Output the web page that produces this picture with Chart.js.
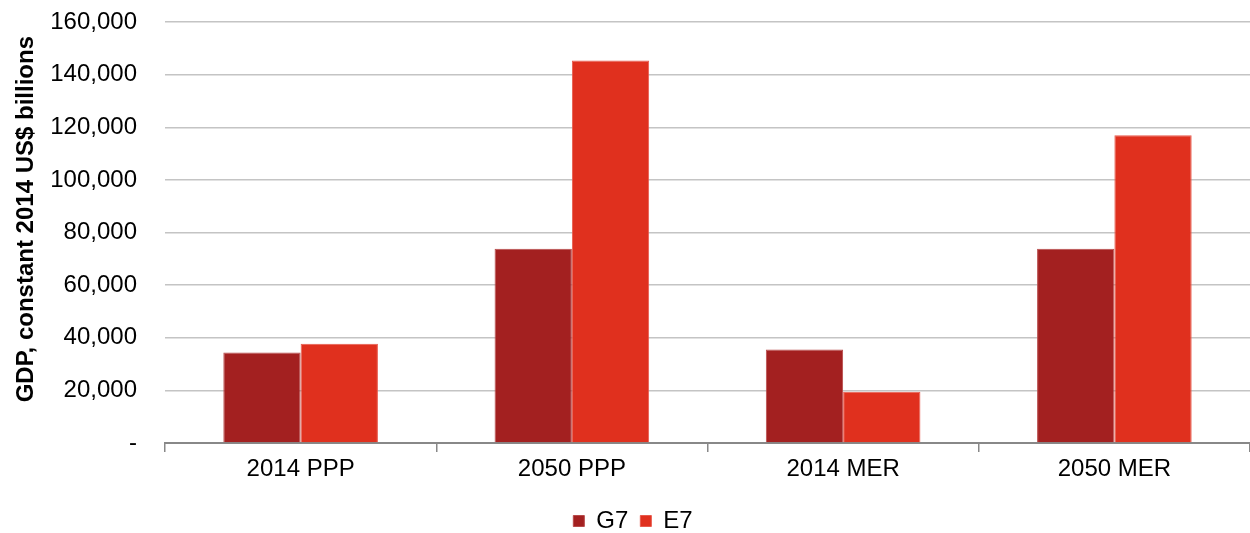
<!DOCTYPE html>
<html>
<head>
<meta charset="utf-8">
<script src="https://cdn.jsdelivr.net/npm/chart.js@4/dist/chart.umd.min.js"></script>
<style>
  html, body { margin: 0; padding: 0; background: #fff; }
  #wrap { width: 1250px; height: 533px; }
</style>
</head>
<body>
<div id="wrap"><canvas id="gdpChart"></canvas></div>
<script>
// ---- data ----
const categories = ['2014 PPP', '2050 PPP', '2014 MER', '2050 MER'];
const g7Values = [34400, 73800, 35500, 73800];
const e7Values = [37700, 145400, 19500, 117000];
const seriesNames = ['G7', 'E7'];
const yTicks = [0, 20000, 40000, 60000, 80000, 100000, 120000, 140000, 160000];

const FONT = '"Liberation Sans", Arial, sans-serif';

// nudge the legend down/right so it sits where the original has it
const legendNudge = {
  id: 'legendNudge',
  afterLayout(chart) {
    const lg = chart.legend;
    if (!lg) return;
    lg.top += 10;
    lg.bottom += 10;
    lg.left += 8;
    lg.right += 8;
  }
};

const ctx = document.getElementById('gdpChart').getContext('2d');
new Chart(ctx, {
  type: 'bar',
  data: {
    labels: categories,
    datasets: [
      { label: seriesNames[0], data: g7Values, backgroundColor: '#a32020', borderColor: '#b84a4a', borderWidth: 1 },
      { label: seriesNames[1], data: e7Values, backgroundColor: '#e0301e', borderColor: '#e85a4c', borderWidth: 1 }
    ]
  },
  plugins: [legendNudge],
  options: {
    responsive: true,
    maintainAspectRatio: false,
    animation: false,
    layout: { padding: { top: 22, right: 0, left: 0, bottom: 0 } },
    datasets: { bar: { categoryPercentage: 0.57, barPercentage: 1.0 } },
    plugins: {
      legend: {
        position: 'bottom',
        labels: {
          font: { family: FONT, size: 24 },
          color: '#000',
          usePointStyle: true,
          pointStyle: 'rect',
          boxWidth: 11,
          boxHeight: 11,
          padding: 12
        }
      },
      tooltip: { enabled: false }
    },
    scales: {
      x: {
        grid: { display: true, drawOnChartArea: false, color: '#888', lineWidth: 1.5, tickLength: 9, offset: true },
        border: { display: true, color: '#888', width: 2 },
        ticks: { font: { family: FONT, size: 24 }, color: '#000', padding: 3 },
        afterFit: (scale) => { scale.height = 44; scale.paddingLeft = 0; scale.paddingRight = 0; }
      },
      y: {
        min: 0,
        max: 160000,
        afterBuildTicks: (scale) => { scale.ticks = yTicks.map(v => ({ value: v })); },
        grid: { color: '#c4c4c4', lineWidth: 1.5, drawTicks: false },
        border: { display: false },
        ticks: {
          font: { family: FONT, size: 24 },
          color: '#000',
          padding: 28,
          callback: (v) => v === 0 ? '-' : v.toLocaleString('en-US')
        },
        title: {
          display: true,
          // leading spaces lift the title a little, as in the original
          text: '\u00a0\u00a0\u00a0\u00a0GDP, constant 2014 US$ billions',
          font: { family: FONT, size: 24, weight: 'bold' },
          color: '#000',
          padding: { top: 12, bottom: 6 }
        },
        afterFit: (scale) => { scale.width = 165; scale.paddingTop = 0; scale.paddingBottom = 0; }
      }
    }
  }
});
</script>
</body>
</html>
